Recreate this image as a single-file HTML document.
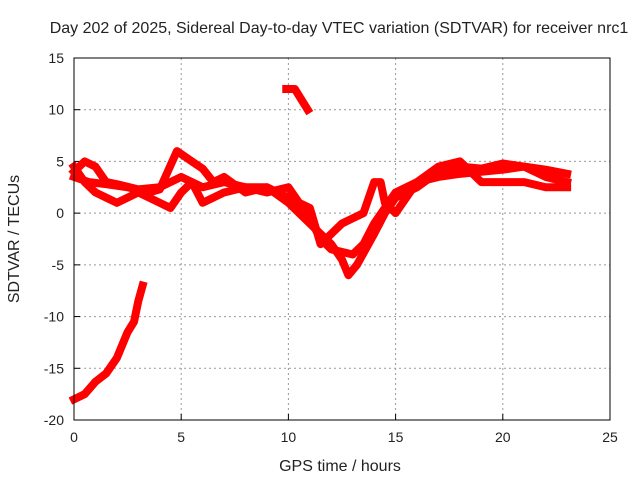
<!DOCTYPE html>
<html><head><meta charset="utf-8"><style>
body{margin:0;background:#fff}
svg text{font-family:"Liberation Sans",sans-serif;font-size:14px;fill:#222}
svg text.big{font-size:16px}
</style></head><body>
<svg id="chart" width="640" height="480" xmlns="http://www.w3.org/2000/svg">
<text class="big" x="339" y="33" text-anchor="middle">Day 202 of 2025, Sidereal Day-to-day VTEC variation (SDTVAR) for receiver nrc1</text>
<g id="grid"></g>
<g id="ticks"></g>
<g id="series"></g>
<rect x="74" y="58" width="536" height="362" fill="none" stroke="#000" stroke-width="1"/>
<text class="big" x="340" y="471" text-anchor="middle">GPS time / hours</text>
<text class="big" transform="translate(19,239) rotate(-90)" text-anchor="middle">SDTVAR / TECUs</text>
</svg>
<script>
const xTicks=[0,5,10,15,20,25];
const yTicks=[15,10,5,0,-5,-10,-15,-20];
const seriesA=[[0,-18],[0.5,-17.5],[1,-16.3],[1.5,-15.5],[2,-14],[2.5,-11.5],[2.8,-10.5],[3.0,-8.5],[3.2,-7]];
const seriesB=[[9.9,12],[10.3,12],[10.6,11],[10.9,10]];
const seriesC=[[0,4],[0.5,5],[1,4.5],[1.5,3],[2,2.8],[3,2.3],[4,2.5],[5,3.5],[5.5,3],[6,2.5],[7,3],[8,2.5],[9,2.5],[10,1.5],[11,-0.5],[11.5,-2.5],[12,-3.5],[13,-4],[13.5,-3],[14,-1],[15,2],[16,3],[17,3.5],[18,3.8],[19,4],[20,4.2],[21,4.5],[22,4.2],[23,3.8]];
const seriesD=[[0,3.5],[0.7,3],[1.5,2.8],[2.5,2.5],[3.5,2],[4,2.3],[4.8,6],[5.5,5],[6,4.3],[6.5,3],[7,3.5],[8,2],[9,2.5],[10,1],[10.5,0],[11,-1],[11.5,-2],[12,-3],[12.5,-4.5],[12.8,-6],[13.2,-5],[14,-2],[14.5,0],[15,1.5],[16,2.5],[17,4],[18,4.5],[19,4.3],[20,4.8],[21,4.5],[22,3.5],[23,3]];
const seriesE=[[0,4.5],[0.5,3],[1,2],[1.5,1.5],[2,1],[3,2],[4,1],[4.5,0.5],[5,2],[5.5,3],[6,1],[7,2],[8,2.5],[9,2],[10,2.5],[10.5,1],[11,0.5],[11.5,-3],[12,-2],[12.5,-1],[13,-0.5],[13.5,0],[14,3],[14.3,3],[14.5,1],[15,0],[16,3],[17,4.5],[18,5],[19,3],[20,3],[21,3],[22,2.5],[23,2.5]];
const allSeries=[seriesA,seriesB,seriesC,seriesD,seriesE];
const X=h=>74+h*536/25;
const Y=v=>58+(15-v)*362/35;
const NS="http://www.w3.org/2000/svg";
const grid=document.getElementById('grid'),ticks=document.getElementById('ticks'),ser=document.getElementById('series');
function mk(tag,attrs,parent){const e=document.createElementNS(NS,tag);for(const k in attrs)e.setAttribute(k,attrs[k]);parent.appendChild(e);return e;}
xTicks.forEach(t=>{
  if(t>0&&t<25){const g=mk('line',{x1:X(t),x2:X(t),y1:58,y2:420,stroke:'#999','stroke-dasharray':'2,3'},grid);
  
  }
  const l=mk('text',{x:X(t),y:442,'text-anchor':'middle'},ticks);l.textContent=t;
  
  
  mk('line',{x1:X(t),x2:X(t),y1:420,y2:414,stroke:'#000'},ticks);
});
yTicks.forEach(t=>{
  if(t<15&&t>-20){const g=mk('line',{x1:74,x2:610,y1:Y(t),y2:Y(t),stroke:'#999','stroke-dasharray':'2,3'},grid);
  
  }
  const l=mk('text',{x:64,y:Y(t)+5,'text-anchor':'end'},ticks);l.textContent=t;
  
  
  mk('line',{x1:74,x2:80,y1:Y(t),y2:Y(t),stroke:'#000'},ticks);
});
allSeries.forEach((s,i)=>{
  const p=mk('polyline',{points:s.map(d=>X(d[0])+','+Y(d[1])).join(' '),fill:'none',stroke:'#f00','stroke-width':8,'stroke-linejoin':'round','stroke-linecap':'square'},ser);
  
  
});
</script>
</body></html>
